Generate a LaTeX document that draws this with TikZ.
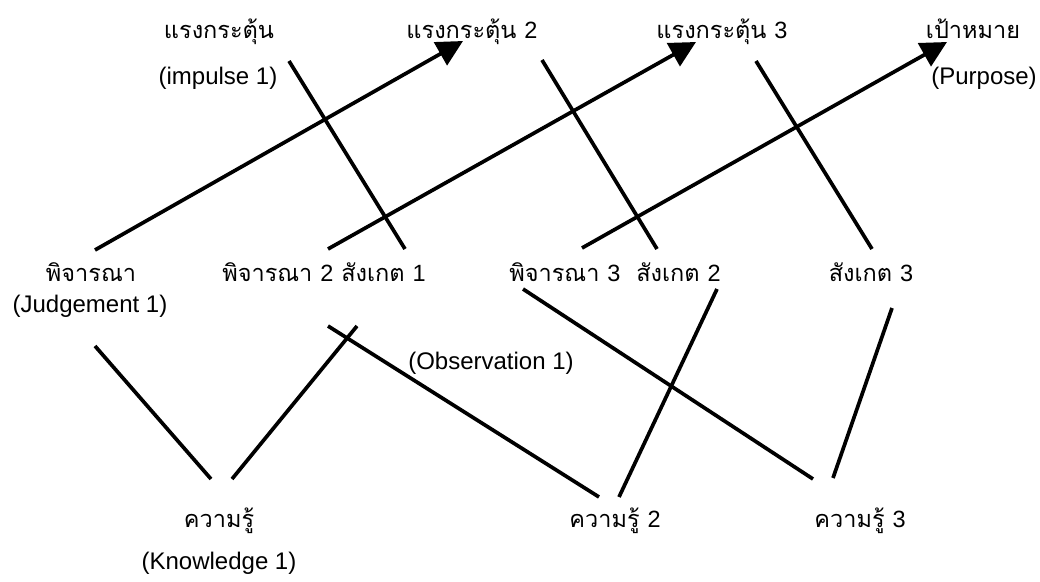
\documentclass[tikz,border=0pt]{standalone}
\usepackage{fontspec}
\setmainfont{Liberation Sans}
\newfontfamily\thai[Script=Thai]{Loma}
\usetikzlibrary{arrows.meta}
\tikzset{
  lbl/.style={inner sep=0pt, anchor=base, font=\fontsize{24}{28}\selectfont},
  th/.style={inner sep=0pt, anchor=base, font=\fontsize{23.5}{28}\selectfont\thai},
  ln/.style={line width=3.7pt},
  arr/.style={line width=3.7pt, -{Triangle[length=26pt,width=26pt]}},
}
\begin{document}
\begin{tikzpicture}[x=1pt,y=-1pt]
\useasboundingbox (0,0) rectangle (1040,581);
% top row
\node[th] (i1) at (219,38) {แรงกระตุ้น};
\node[lbl] (i1e) at (218,84) {(impulse 1)};
\node[th] (i2) at (472,38) {แรงกระตุ้น {\rmfamily 2}};
\node[th] (i3) at (722,38) {แรงกระตุ้น {\rmfamily 3}};
\node[th] (p) at (973,38) {เป้าหมาย};
\node[lbl] (pe) at (984,84) {(Purpose)};
% middle row
\node[th] (j1) at (91,281) {พิจารณา};
\node[lbl] (j1e) at (90,312) {(Judgement 1)};
\node[th] (j2) at (324,281) {พิจารณา {\rmfamily 2} สังเกต {\rmfamily 1}};
\node[th] (j3) at (615,281) {พิจารณา {\rmfamily 3}\ \ สังเกต {\rmfamily 2}};
\node[th] (o3) at (871,281) {สังเกต {\rmfamily 3}};
\node[lbl] (o1e) at (491,369) {(Observation 1)};
% bottom row
\node[th] (k1) at (219,527) {ความรู้};
\node[lbl] (k1e) at (219,569) {(Knowledge 1)};
\node[th] (k2) at (615,527) {ความรู้ {\rmfamily 2}};
\node[th] (k3) at (860,527) {ความรู้ {\rmfamily 3}};
% connector ends
\coordinate (a1s) at (95,250);  \coordinate (a1e) at (463,41);
\coordinate (l2s) at (289,61);  \coordinate (l2e) at (405,249);
\coordinate (a3s) at (328,249); \coordinate (a3e) at (696,42);
\coordinate (l4s) at (542,60);  \coordinate (l4e) at (657,249);
\coordinate (a5s) at (582,248); \coordinate (a5e) at (947,42);
\coordinate (l6s) at (756,61);  \coordinate (l6e) at (872,249);
\coordinate (l7s) at (95,346);  \coordinate (l7e) at (211,479);
\coordinate (l8s) at (232,479); \coordinate (l8e) at (357,326);
\coordinate (l9s) at (328,326); \coordinate (l9e) at (599,497);
\coordinate (l10s) at (717,289); \coordinate (l10e) at (619,497);
\coordinate (l11s) at (523,289); \coordinate (l11e) at (813,479);
\coordinate (l12s) at (892,308); \coordinate (l12e) at (833,478);
\draw[arr] (a1s) -- (a1e);
\draw[ln] (l2s) -- (l2e);
\draw[arr] (a3s) -- (a3e);
\draw[ln] (l4s) -- (l4e);
\draw[arr] (a5s) -- (a5e);
\draw[ln] (l6s) -- (l6e);
\draw[ln] (l7s) -- (l7e);
\draw[ln] (l8s) -- (l8e);
\draw[ln] (l9s) -- (l9e);
\draw[ln] (l10s) -- (l10e);
\draw[ln] (l11s) -- (l11e);
\draw[ln] (l12s) -- (l12e);
\end{tikzpicture}
\end{document}
